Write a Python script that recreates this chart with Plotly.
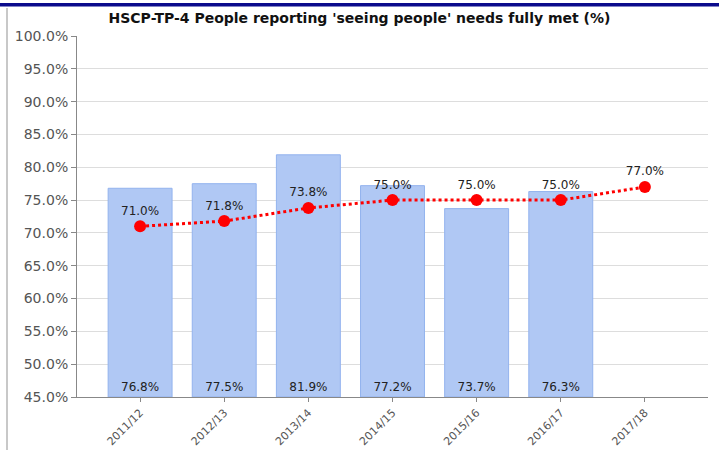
import plotly.graph_objects as go

# Financial years on the category axis
years = ["2011/12", "2012/13", "2013/14", "2014/15", "2015/16", "2016/17", "2017/18"]
# Local partnership result (bars) and national comparator (dotted line), in %
local_pct = [76.8, 77.5, 81.9, 77.2, 73.7, 76.3, None]
national_pct = [71.0, 71.8, 73.8, 75.0, 75.0, 75.0, 77.0]
y_ticks = [45, 50, 55, 60, 65, 70, 75, 80, 85, 90, 95, 100]

Y_MIN, Y_MAX = 45, 100
W, H = 719, 450
M_L, M_R, M_T, M_B = 77, 11, 36, 53
PW, PH = W - M_L - M_R, H - M_T - M_B

bar_years = [y for y, v in zip(years, local_pct) if v is not None]
bar_vals = [v for v in local_pct if v is not None]

fig = go.Figure()

fig.add_trace(go.Bar(
    x=bar_years,
    y=[v - Y_MIN for v in bar_vals],
    base=Y_MIN,
    width=0.76,
    marker=dict(color="#b0c8f4", line=dict(color="#93b3ee", width=1)),
    text=[f"{v:.1f}%" for v in bar_vals],
    textposition="inside",
    insidetextanchor="start",
    textangle=0,
    constraintext="none",
    textfont=dict(family="DejaVu Sans", size=12, color="#222222"),
    cliponaxis=False,
    showlegend=False,
))

fig.add_trace(go.Scatter(
    x=years,
    y=national_pct,
    mode="lines+markers+text",
    line=dict(color="#ff0000", width=3, dash="dot"),
    marker=dict(color="#ff0000", size=12),
    text=[f"{v:.1f}%" for v in national_pct],
    textposition="top center",
    textfont=dict(family="DejaVu Sans", size=12, color="#222222"),
    cliponaxis=False,
    showlegend=False,
))

def px_x(p):
    return (p - M_L) / PW

def px_y(p):
    return (H - M_B - p) / PH

# Dark header band and light left border around the chart panel
fig.add_shape(type="rect", xref="paper", yref="paper",
              x0=px_x(0), x1=px_x(W), y0=px_y(6.5), y1=px_y(3),
              fillcolor="#0b0b8c", line=dict(width=0), layer="above")
fig.add_shape(type="line", xref="paper", yref="paper",
              x0=px_x(7), x1=px_x(7), y0=px_y(8), y1=px_y(450),
              line=dict(color="#c8c8c8", width=2))

fig.update_layout(
    width=W, height=H,
    margin=dict(l=M_L, r=M_R, t=M_T, b=M_B, pad=0, autoexpand=False),
    paper_bgcolor="white", plot_bgcolor="white",
    title=dict(text="<b>HSCP-TP-4 People reporting 'seeing people' needs fully met (%)</b>",
               x=0.5, xanchor="center", y=1 - 18 / H, yanchor="middle",
               font=dict(family="DejaVu Sans", size=14, color="#111111")),
    bargap=0.24,
)

fig.update_xaxes(
    type="category", range=[-0.75, 6.75], automargin=False,
    showline=True, linecolor="#888888", linewidth=1,
    ticks="outside", ticklen=4, tickcolor="#888888",
    tickangle=-45, tickfont=dict(family="DejaVu Sans", size=11, color="#555555"),
    showgrid=False,
)
fig.update_yaxes(
    range=[Y_MIN, Y_MAX], tickvals=y_ticks, automargin=False,
    ticktext=[f"{v:.1f}%" for v in y_ticks],
    showline=True, linecolor="#888888", linewidth=1,
    ticks="outside", ticklen=5, tickcolor="#888888",
    tickfont=dict(family="DejaVu Sans", size=14, color="#555555"),
    showgrid=True, gridcolor="#dddddd", gridwidth=1,
    zeroline=False,
)

fig.write_html("out.html")
